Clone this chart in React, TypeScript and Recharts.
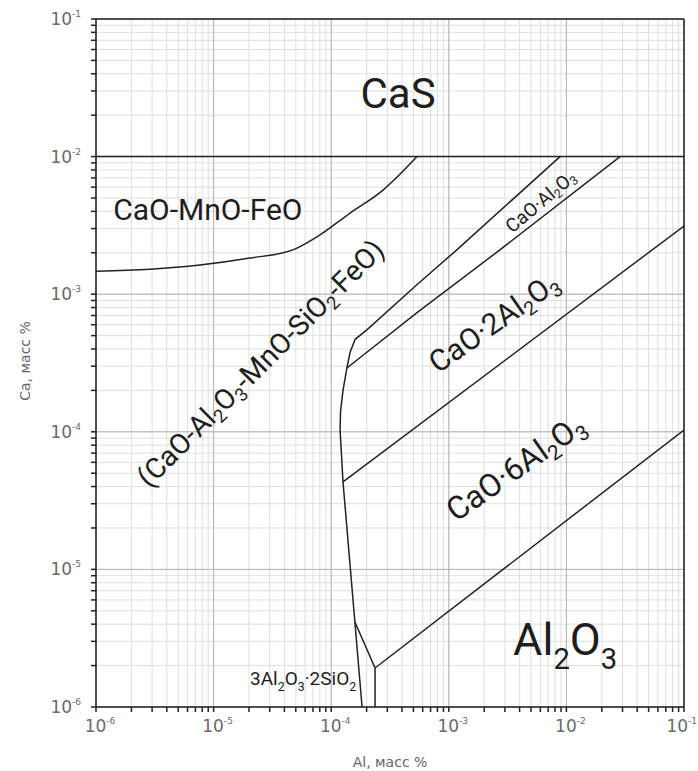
import {
  CartesianGrid,
  Line,
  LineChart,
  ReferenceDot,
  ReferenceLine,
  XAxis,
  YAxis,
} from "recharts";

// log decades on both axes, and the minor steps inside each decade
const decades = [1e-6, 1e-5, 1e-4, 1e-3, 1e-2, 1e-1];
const decadeExps = ["-6", "-5", "-4", "-3", "-2", "-1"];
const minorSteps = [2, 3, 4, 5, 6, 7, 8, 9];

// phase boundaries (Al, mass % ; Ca, mass %)
const casX = [1e-6, 1e-1];
const casY = [1e-2, 1e-2];

const mnoFeoX = [1e-6, 2.88e-6, 7.65e-6, 2.04e-5, 4.73e-5, 7.57e-5, 1.45e-4, 2.76e-4, 5.37e-4];
const mnoFeoY = [1.47e-3, 1.52e-3, 1.63e-3, 1.83e-3, 2.1e-3, 2.61e-3, 3.89e-3, 5.71e-3, 1e-2];

const slagX = [8.83e-3, 1.17e-3, 5.47e-4, 2.01e-4, 1.6e-4, 1.45e-4, 1.36e-4, 1.26e-4, 1.2e-4, 1.19e-4, 1.26e-4, 1.59e-4, 1.83e-4];
const slagY = [1e-2, 2.1e-3, 1.19e-3, 5.5e-4, 4.7e-4, 3.8e-4, 2.91e-4, 2.0e-4, 1.4e-4, 1.03e-4, 4.32e-5, 4.15e-6, 1e-6];

const ca1X = [2.86e-2, 2.72e-3, 5.47e-4, 1.36e-4];
const ca1Y = [1e-2, 2.1e-3, 7.43e-4, 2.91e-4];

const ca2X = [1.26e-4, 1e-1];
const ca2Y = [4.32e-5, 3.13e-3];

const ca6X = [2.36e-4, 1e-1];
const ca6Y = [1.92e-6, 1.03e-4];

const mulliteX = [1.59e-4, 2.36e-4, 2.36e-4];
const mulliteY = [4.15e-6, 1.92e-6, 1e-6];

const pts = (xs: number[], ys: number[]) => xs.map((x, i) => ({ x, y: ys[i] }));

const ticks = decades.flatMap((d, i) => (i < decades.length - 1 ? [d, ...minorSteps.map((m) => m * d)] : [d]));

type Part = [string, boolean?];

// region labels: text parts (true = subscript), anchor point, size, rotation
const labels: {
  parts: Part[];
  x: number;
  y: number;
  size: number;
  angle: number;
  anchor: "start" | "middle";
}[] = [
  { parts: [["CaS"]], x: 3.7e-4, y: 2.25e-2, size: 42, angle: 0, anchor: "middle" },
  { parts: [["CaO-MnO-FeO"]], x: 1.4e-6, y: 3.46e-3, size: 30, angle: 0, anchor: "start" },
  {
    parts: [["(CaO-Al"], ["2", true], ["O"], ["3", true], ["-MnO-SiO"], ["2", true], ["-FeO)"]],
    x: 2.5e-5,
    y: 3.15e-4,
    size: 28.5,
    angle: -45,
    anchor: "middle",
  },
  { parts: [["CaO·Al"], ["2", true], ["O"], ["3", true]], x: 6.0e-3, y: 4.75e-3, size: 19, angle: -40, anchor: "middle" },
  { parts: [["CaO·2Al"], ["2", true], ["O"], ["3", true]], x: 2.4e-3, y: 6.3e-4, size: 30, angle: -35, anchor: "middle" },
  { parts: [["CaO·6Al"], ["2", true], ["O"], ["3", true]], x: 3.7e-3, y: 5.5e-5, size: 32, angle: -35, anchor: "middle" },
  { parts: [["Al"], ["2", true], ["O"], ["3", true]], x: 3.52e-3, y: 2.39e-6, size: 45, angle: 0, anchor: "start" },
  { parts: [["3Al"], ["2", true], ["O"], ["3", true], ["·2SiO"], ["2", true]], x: 2.04e-5, y: 1.44e-6, size: 19, angle: 0, anchor: "start" },
];

const FONT = "Roboto, 'DejaVu Sans', sans-serif";
const TICK_FONT = "'DejaVu Sans', sans-serif";

function RichText({ cx, cy, parts, size, angle, anchor }: any) {
  const shift = size * 0.32;
  let down = false;
  const spans = parts.map(([t, sub]: Part, i: number) => {
    let dy = 0;
    if (sub && !down) {
      dy = shift;
      down = true;
    } else if (!sub && down) {
      dy = -shift;
      down = false;
    }
    return (
      <tspan key={i} dy={dy} fontSize={sub ? size * 0.65 : size}>
        {t}
      </tspan>
    );
  });
  return (
    <text
      x={cx}
      y={cy}
      fontFamily={FONT}
      fontSize={size}
      fill="#1e1e1e"
      textAnchor={anchor}
      dominantBaseline={angle ? "central" : "auto"}
      transform={angle ? `rotate(${angle} ${cx} ${cy})` : undefined}
    >
      {spans}
    </text>
  );
}

function XTick({ x, y, payload }: any) {
  const i = decades.indexOf(payload.value);
  if (i < 0) return null;
  const last = i === decades.length - 1;
  return (
    <text
      x={last ? x + 13 : x + 4}
      y={y + 18}
      textAnchor={last ? "end" : "middle"}
      fill="#6a6a6a"
      fontFamily={TICK_FONT}
      fontSize={17}
    >
      10
      <tspan dy={-8} fontSize={9}>
        {decadeExps[i]}
      </tspan>
    </text>
  );
}

function YTick({ x, y, payload }: any) {
  const i = decades.indexOf(payload.value);
  if (i < 0) return null;
  return (
    <text x={x - 8} y={y + 6} textAnchor="end" fill="#6a6a6a" fontFamily={TICK_FONT} fontSize={17}>
      10
      <tspan dy={-8} fontSize={9}>
        {decadeExps[i]}
      </tspan>
    </text>
  );
}

function XLabel({ viewBox }: any) {
  const { x = 96, y = 707, width = 588 } = viewBox || {};
  return (
    <text x={x + width / 2} y={y + 60} textAnchor="middle" fill="#666" fontFamily={TICK_FONT} fontSize={14}>
      Al, масс %
    </text>
  );
}

function YLabel({ viewBox }: any) {
  const { y = 19, height = 688 } = viewBox || {};
  const cx = 30;
  const cy = y + height / 2 - 2;
  return (
    <text
      x={cx}
      y={cy}
      textAnchor="middle"
      fill="#666"
      fontFamily={TICK_FONT}
      fontSize={14}
      transform={`rotate(-90 ${cx} ${cy})`}
    >
      Ca, масс %
    </text>
  );
}

const lineStyle = { stroke: "#222", strokeWidth: 1.5, dot: false, isAnimationActive: false } as const;

export default function App() {
  return (
    <div style={{ position: "absolute", left: 0, top: 0, background: "#fff" }}>
      <LineChart width={698} height={771} margin={{ top: 19, right: 14, bottom: 24, left: 16 }}>
        <CartesianGrid stroke="#dedede" strokeWidth={1} />
        <XAxis
          dataKey="x"
          type="number"
          scale="log"
          domain={[1e-6, 1e-1]}
          allowDataOverflow
          ticks={ticks}
          interval={0}
          height={40}
          tickSize={5}
          tick={<XTick />}
          axisLine={{ stroke: "#222", strokeWidth: 1.5 }}
          tickLine={{ stroke: "#222", strokeWidth: 1.5 }}
          label={<XLabel />}
        />
        <YAxis
          dataKey="y"
          type="number"
          scale="log"
          domain={[1e-6, 1e-1]}
          allowDataOverflow
          ticks={ticks}
          interval={0}
          width={80}
          tickSize={5}
          tick={<YTick />}
          axisLine={{ stroke: "#222", strokeWidth: 1.5 }}
          tickLine={{ stroke: "#222", strokeWidth: 1.5 }}
          label={<YLabel />}
        />
        {decades.map((d) => (
          <ReferenceLine key={`vx${d}`} x={d} stroke="#b4b4b4" />
        ))}
        {decades.map((d) => (
          <ReferenceLine key={`hy${d}`} y={d} stroke="#b4b4b4" />
        ))}
        <ReferenceLine x={1e-1} stroke="#222" strokeWidth={1.5} />
        <ReferenceLine y={1e-1} stroke="#222" strokeWidth={1.5} />

        <Line data={pts(casX, casY)} dataKey="y" type="linear" {...lineStyle} />
        <Line data={pts(mnoFeoX, mnoFeoY)} dataKey="y" type="monotone" {...lineStyle} />
        <Line data={pts(slagX, slagY)} dataKey="y" type="linear" {...lineStyle} />
        <Line data={pts(ca1X, ca1Y)} dataKey="y" type="linear" {...lineStyle} />
        <Line data={pts(ca2X, ca2Y)} dataKey="y" type="linear" {...lineStyle} />
        <Line data={pts(ca6X, ca6Y)} dataKey="y" type="linear" {...lineStyle} />
        <Line data={pts(mulliteX, mulliteY)} dataKey="y" type="linear" {...lineStyle} />

        {labels.map((l, i) => (
          <ReferenceDot
            key={i}
            x={l.x}
            y={l.y}
            r={0}
            ifOverflow="visible"
            shape={(p: any) => (
              <RichText cx={p.cx} cy={p.cy} parts={l.parts} size={l.size} angle={l.angle} anchor={l.anchor} />
            )}
          />
        ))}
      </LineChart>
    </div>
  );
}
